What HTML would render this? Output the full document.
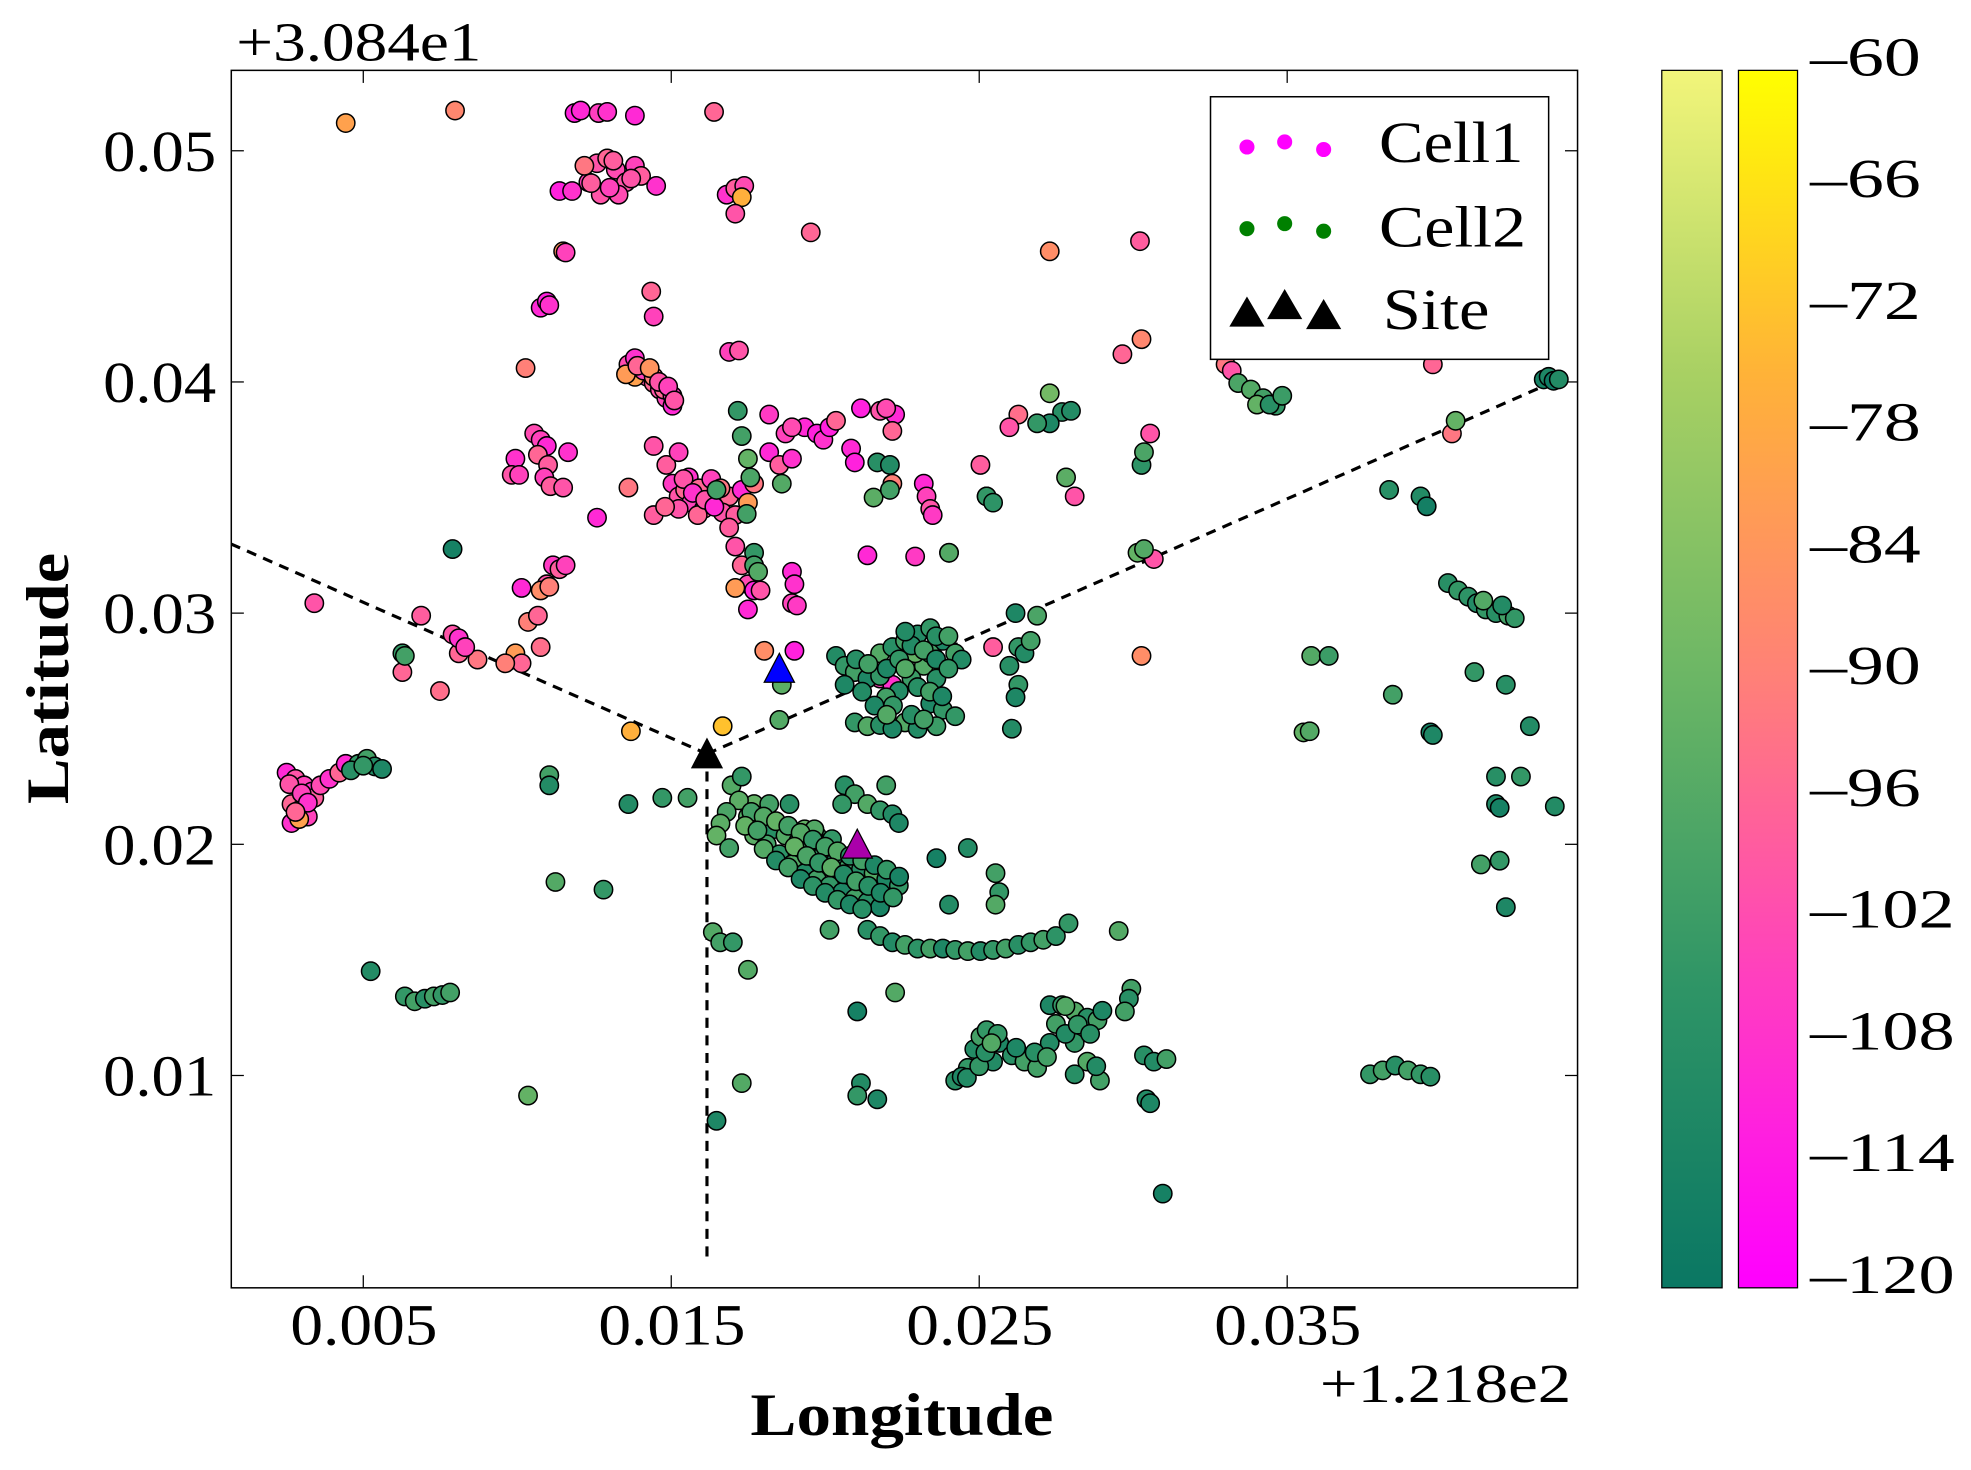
<!DOCTYPE html>
<html><head><meta charset="utf-8">
<style>
html,body{margin:0;padding:0;background:#fff;}
svg{display:block;}
text{font-family:"Liberation Serif","DejaVu Serif",serif;fill:#000;}
</style></head>
<body>
<svg id="chart" width="1971" height="1470" viewBox="0 0 1568 1170" preserveAspectRatio="none" xmlns="http://www.w3.org/2000/svg">
<defs>
<linearGradient id="g2" x1="0" y1="1" x2="0" y2="0">
<stop offset="0" stop-color="#0a7763"/><stop offset="0.25" stop-color="#2f9566"/><stop offset="0.5" stop-color="#6bb665"/><stop offset="0.75" stop-color="#a8d063"/><stop offset="1" stop-color="#f2f57a"/>
</linearGradient>
<linearGradient id="g1" x1="0" y1="1" x2="0" y2="0">
<stop offset="0" stop-color="#ff00ff"/><stop offset="0.25" stop-color="#ff3ec0"/><stop offset="0.5" stop-color="#ff8078"/><stop offset="0.75" stop-color="#ffb238"/><stop offset="1" stop-color="#ffff00"/>
</linearGradient>
</defs>
<rect x="184" y="56" width="1071" height="969" fill="#fff" stroke="#000" stroke-width="1.2"/>
<g id="axes"></g>
<g id="lines"></g>
<g id="marks"></g>
<g id="cbar"></g>
<text x="188" y="48" font-size="44" textLength="195" lengthAdjust="spacingAndGlyphs">+3.084e1</text>
<text x="1050" y="1116" font-size="44" textLength="200" lengthAdjust="spacingAndGlyphs">+1.218e2</text>
<text x="597" y="1142" font-size="48" font-weight="bold" textLength="241" lengthAdjust="spacingAndGlyphs">Longitude</text>
<text x="0" y="0" font-size="48" font-weight="bold" textLength="200" lengthAdjust="spacingAndGlyphs" transform="translate(54,640) rotate(-90)">Latitude</text>
<g>
<rect x="963" y="77" width="269" height="209" fill="#fff" stroke="#000" stroke-width="1.2"/>
<g>
<circle cx="992" cy="117" r="6" fill="#ff00ff"/><circle cx="1022" cy="113" r="6" fill="#ff00ff"/><circle cx="1053" cy="119" r="6" fill="#ff00ff"/>
<text x="1097" y="129" font-size="46" textLength="115" lengthAdjust="spacingAndGlyphs">Cell1</text></g>
<g>
<circle cx="992" cy="182" r="6" fill="#008000"/><circle cx="1022" cy="178" r="6" fill="#008000"/><circle cx="1053" cy="184" r="6" fill="#008000"/>
<text x="1097" y="196" font-size="46" textLength="117" lengthAdjust="spacingAndGlyphs">Cell2</text></g>
<g>
<polygon points="978,260 992,236 1006,260" fill="#000"/><polygon points="1008,254 1022,230 1036,254" fill="#000"/><polygon points="1039,262 1053,238 1067,262" fill="#000"/>
<text x="1100" y="262" font-size="46" textLength="85" lengthAdjust="spacingAndGlyphs">Site</text></g>
</g>
</svg>
<script>
const xTicks = [0.005, 0.015, 0.025, 0.035];
const xTickLabels = ["0.005", "0.015", "0.025", "0.035"];
const yTicks = [0.01, 0.02, 0.03, 0.04, 0.05];
const yTickLabels = ["0.01", "0.02", "0.03", "0.04", "0.05"];
const cbarTicks = [-60, -66, -72, -78, -84, -90, -96, -102, -108, -114, -120];
// points: [lon offset x1000, lat offset x1000, RSSI]
const cell1 = [[4.43,51.20,-80],[7.98,51.74,-88],[11.86,51.63,-112],[12.06,51.74,-110],[12.64,51.63,-105],[12.92,51.68,-108],[13.82,51.52,-110],[16.39,51.68,-96],
[11.37,48.26,-112],[11.78,48.26,-108],[12.31,48.64,-104],[12.59,49.46,-100],[12.92,49.67,-96],[13.20,49.18,-102],[13.53,48.64,-100],[13.82,49.35,-104],[14.02,48.91,-98],[14.51,48.48,-108],[12.71,48.10,-100],[13.29,48.10,-102],[12.18,49.35,-92],[13.12,49.57,-98],
[12.4,48.6,-98],[13.0,48.4,-104],[13.7,48.8,-100],
[16.80,48.10,-108],[17.08,48.37,-98],[17.37,48.48,-102],[17.29,47.99,-76],[17.08,47.28,-100],[19.53,46.47,-96],[11.49,45.65,-84],[11.57,45.60,-104],
[10.76,43.21,-110],[10.96,43.48,-112],[11.04,43.32,-108],[10.27,40.60,-90],[14.35,43.91,-96],[14.43,42.83,-104],[16.88,41.30,-104],[17.20,41.36,-100],
[13.61,40.76,-102],[13.82,41.03,-108],[14.02,40.49,-92],[14.22,40.22,-100],[14.43,39.95,-96],[14.63,39.67,-100],[14.84,39.30,-104],[15.04,38.97,-110],[13.82,40.22,-80],[13.53,40.33,-82],[14.10,40.49,-104],[14.43,40.22,-90],[14.76,39.67,-96],[15.04,39.40,-106],
[13.9,40.7,-96],[14.3,40.6,-84],[14.6,40.0,-100],[14.9,39.8,-104],[15.1,39.2,-100],
[9.94,36.68,-108],[9.82,35.98,-100],[10.06,35.98,-104],[10.55,37.77,-102],[10.76,37.50,-104],[10.96,37.23,-110],[10.67,36.85,-96],[11.00,36.41,-98],[10.88,35.87,-104],[11.65,36.96,-108],[11.08,35.49,-98],[11.49,35.43,-100],[12.59,34.13,-110],
[14.84,36.41,-98],[15.24,36.96,-104],[14.43,37.23,-100],[13.61,35.43,-92],
[15.04,35.60,-106],[15.24,35.05,-100],[15.45,35.33,-96],[15.65,34.78,-104],[16.06,34.51,-98],[16.47,34.78,-102],[16.88,35.05,-96],[17.29,35.33,-110],[17.69,35.60,-92],[15.57,35.87,-108],[16.27,35.22,-84],[16.67,34.35,-100],[17.08,34.24,-98],[17.49,34.78,-82],[15.86,34.24,-96],[14.43,34.24,-98],[15.24,34.51,-100],
[15.4,35.8,-100],[15.9,35.4,-96],[16.3,35.8,-104],[16.6,35.4,-92],[15.7,35.2,-108],[16.1,34.9,-100],[14.8,34.6,-96],[16.4,34.6,-110],
[16.88,33.70,-98],[17.08,32.88,-100],[17.29,32.07,-96],[17.49,31.25,-102],[17.69,30.98,-112],[17.08,31.09,-82],[17.49,30.16,-110],[17.90,30.98,-100],
[18.92,31.79,-110],[19.00,31.25,-108],[18.92,30.43,-104],[19.08,30.33,-106],[18.02,28.37,-86],[19.00,28.37,-112],
[18.18,38.59,-106],[18.18,36.96,-110],[18.71,37.77,-104],[19.33,38.04,-110],[19.73,37.77,-112],[19.94,37.50,-108],[18.92,38.04,-102],[18.51,36.41,-98],[18.92,36.68,-108],[20.14,38.04,-112],[20.35,38.32,-96],
[20.84,37.12,-110],[20.96,36.52,-112],[21.16,38.86,-112],[21.78,38.75,-100],[22.27,38.59,-110],[22.18,37.88,-96],[21.98,38.86,-102],[22.18,35.60,-90],
[23.20,35.60,-110],[23.29,35.05,-104],[23.41,34.51,-100],[23.49,34.24,-106],[21.37,32.50,-110],[22.92,32.45,-106],[24.02,32.61,-92],
[25.04,36.41,-98],[25.24,35.05,-96],[26.27,38.59,-94],[25.98,38.04,-100],[28.10,35.05,-100],
[27.29,45.65,-86],[30.22,46.09,-98],[30.27,41.85,-88],[29.65,41.20,-96],[30.55,37.77,-100],[30.67,32.34,-100],[30.27,28.15,-86],[25.45,28.53,-98],
[11.16,32.07,-106],[11.37,31.90,-98],[11.57,32.07,-104],[10.96,31.25,-100],[10.76,30.98,-86],[11.04,31.14,-90],[10.14,31.09,-110],[10.35,29.62,-90],[10.67,29.89,-96],[10.76,28.53,-94],[9.94,28.26,-82],[10.14,27.83,-96],[9.61,27.83,-90],
[3.41,30.43,-100],[6.88,29.89,-98],[7.90,29.08,-100],[8.10,28.26,-96],[8.71,27.99,-92],[7.49,26.63,-94],[6.27,27.45,-96],[8.10,28.91,-108],[8.31,28.53,-104],
[13.69,24.89,-76],[16.67,25.11,-72],
[2.51,23.10,-110],[2.80,22.83,-100],[3.08,22.55,-104],[3.33,22.28,-108],[2.67,21.74,-96],[2.92,21.47,-100],[3.20,21.20,-104],[3.41,22.01,-98],[3.61,22.55,-102],[3.90,22.83,-108],[4.22,23.10,-96],[4.43,23.48,-110],[2.67,20.92,-108],[2.92,21.09,-80],
[2.6,22.6,-100],[3.0,22.2,-104],[3.2,21.8,-108],[2.8,21.4,-96],
[33.00,40.76,-92],[33.20,40.49,-100],[39.73,40.76,-96],[40.35,37.77,-92],
[21.78,27.17,-104],[20.96,27.72,-100],[22.18,26.90,-108]];
const cell2 = [[43.33,40.11,-115],[43.49,40.22,-112],[43.65,40.05,-118],[43.82,40.11,-110],
[33.41,39.95,-98],[33.82,39.67,-96],[34.22,39.30,-100],[34.63,38.97,-104],[34.02,39.02,-92],[34.43,39.02,-108],[34.84,39.40,-102],
[27.29,39.51,-88],[27.69,38.70,-108],[27.98,38.75,-110],[27.29,38.21,-112],[30.27,36.41,-106],[30.35,36.96,-98],
[17.16,38.75,-104],[17.29,37.66,-100],[17.49,36.68,-92],[17.57,35.87,-98],[17.45,34.29,-100],[17.69,32.61,-104],[17.69,32.07,-100],[17.82,31.79,-96],
[18.59,35.60,-96],[16.47,35.33,-100],[21.57,35.00,-94],[22.10,35.33,-100],[21.69,36.52,-108],[22.10,36.41,-110],
[25.24,35.05,-104],[25.45,34.78,-106],[24.02,32.61,-96],[27.82,35.87,-94],[30.14,32.61,-92],[30.35,32.77,-96],
[7.90,32.77,-115],[6.27,28.26,-104],[6.35,28.15,-100],
[38.31,35.33,-108],[39.33,35.05,-110],[39.53,34.62,-116],
[40.22,31.30,-108],[40.55,30.98,-104],[40.88,30.71,-106],[41.16,30.43,-110],[41.45,30.16,-104],[41.78,30.00,-108],[42.18,29.89,-100],[42.39,29.78,-104],[41.37,30.54,-96],[41.98,30.33,-110],
[35.78,28.15,-96],[36.35,28.15,-102],[35.53,24.84,-92],[35.73,24.89,-96],[38.43,26.47,-100],[39.65,24.84,-115],[39.73,24.73,-112],[41.08,27.45,-104],[42.10,26.90,-108],[42.88,25.11,-110],[41.78,22.93,-108],[42.59,22.93,-104],[41.78,21.74,-112],[41.90,21.58,-115],[43.69,21.64,-110],[41.29,19.13,-100],[41.90,19.29,-104],[42.10,17.28,-112],[40.47,38.32,-92],
[20.35,28.15,-110],[20.63,27.72,-104],[20.96,27.45,-100],[21.37,27.17,-112],[21.78,28.26,-96],[22.18,28.53,-108],[22.59,28.80,-100],[23.00,29.08,-110],[23.41,29.35,-104],[23.82,28.80,-112],[24.22,28.26,-100],[23.20,27.72,-96],[23.61,27.17,-108],[22.80,27.17,-102],[22.39,26.63,-110],[21.98,26.36,-100],[23.41,26.09,-112],[23.82,25.82,-104],[22.59,25.27,-96],[23.00,25.00,-110],[23.61,25.11,-102],[20.96,25.27,-104],[21.37,25.11,-96],[21.78,25.16,-108],[22.18,25.00,-112],[24.22,25.54,-104],[24.43,27.99,-110],[22.92,28.26,-92],[23.41,28.26,-100],[21.78,27.28,-104],[20.63,26.90,-112],
[21.0,28.0,-108],[21.4,27.8,-100],[22.0,27.6,-112],[22.4,28.0,-104],[22.8,28.6,-110],[23.2,28.4,-100],[23.6,28.0,-112],[24.0,27.6,-104],[22.6,27.6,-96],[23.0,26.8,-108],[23.4,26.6,-100],[23.8,26.4,-112],[22.2,26.0,-104],[22.8,25.6,-108],[23.2,25.4,-100],[21.2,26.6,-110],[21.6,26.0,-112],[22.0,25.6,-96],[23.6,29.0,-108],[22.6,29.2,-110],[24.0,29.0,-100],
[26.18,30.00,-112],[26.88,29.89,-98],[26.27,28.53,-104],[26.47,28.26,-110],[26.67,28.80,-100],[25.98,27.72,-108],[26.27,26.90,-104],[26.18,26.36,-112],[26.06,25.00,-110],
[18.59,26.90,-94],[26.88,38.21,-104],
[16.96,22.55,-96],[17.29,22.93,-104],[17.69,21.74,-92],[17.90,20.92,-100],[18.31,20.65,-108],[18.71,20.38,-96],[19.12,20.11,-110],[19.53,19.84,-100],[19.94,19.57,-104],[20.35,19.29,-112],[20.76,19.02,-100],[21.16,18.91,-108],[21.57,18.75,-96],[21.98,18.48,-112],[22.39,18.21,-104],[17.69,20.38,-94],[18.10,20.00,-100],[18.51,19.57,-106],[18.92,19.13,-96],[19.33,18.75,-110],[19.73,18.48,-100],[20.14,18.21,-104],[20.55,17.93,-112],[20.96,17.66,-100],[21.37,17.50,-108],[21.78,17.28,-114],[19.33,20.65,-92],[19.73,20.38,-100],[20.14,20.11,-108],[17.49,21.20,-96],[18.18,21.74,-100],[18.84,21.74,-108],[19.65,20.65,-96],[20.22,20.22,-104],
[17.2,21.9,-94],[17.6,21.4,-100],[18.0,21.2,-96],[18.4,21.0,-92],[18.8,20.8,-100],[19.2,20.5,-96],[19.6,20.2,-104],[20.0,19.9,-100],[20.4,19.7,-96],[20.8,19.5,-108],[21.2,19.3,-100],[21.6,19.1,-112],[22.0,18.9,-104],[22.4,18.6,-114],[18.0,19.8,-96],[18.4,19.3,-110],[18.8,19.0,-100],[19.2,18.5,-112],[19.6,18.2,-106],[20.0,17.9,-110],[20.4,17.6,-104],[20.8,17.4,-112],[21.2,17.2,-108],[17.4,20.8,-92],[17.8,20.6,-100],[19.0,19.9,-92],[19.4,19.5,-98],[19.8,19.2,-104],[20.2,19.0,-94],[20.6,18.7,-110],[21.0,18.4,-100],[21.4,18.2,-108],[21.8,17.9,-112],[22.2,17.7,-104],[16.8,21.4,-98],[16.6,20.9,-94],
[20.63,22.55,-108],[20.96,22.17,-100],[21.37,21.74,-96],[21.78,21.47,-104],[22.18,21.30,-110],[21.98,22.55,-100],[22.39,20.92,-112],[20.55,21.74,-104],[16.47,20.38,-92],[16.88,19.84,-100],
[21.37,16.30,-108],[21.78,16.03,-104],[22.18,15.76,-110],[22.59,15.65,-100],[23.00,15.49,-106],[23.41,15.49,-100],[23.82,15.49,-112],[24.22,15.43,-104],[24.63,15.38,-100],[25.04,15.38,-110],[25.45,15.43,-104],[25.86,15.49,-100],[26.27,15.65,-108],[26.67,15.76,-104],[27.08,15.87,-100],[27.49,16.03,-106],[27.90,16.58,-104],
[23.61,19.40,-115],[24.02,17.39,-110],[24.63,19.84,-110],[25.53,18.75,-100],[25.65,17.93,-104],[25.53,17.39,-96],
[29.53,16.25,-96],[29.94,13.75,-100],[29.86,13.32,-108],[29.73,12.77,-100],
[24.22,9.78,-108],[24.63,10.33,-104],[24.84,11.14,-110],[25.04,11.68,-100],[25.24,11.96,-104],[25.65,11.41,-112],[26.06,10.87,-108],[26.47,10.60,-100],[26.88,10.87,-104],[27.29,11.41,-110],[27.49,12.23,-100],[27.29,13.04,-112],[27.69,13.04,-104],[28.10,12.77,-96],[28.51,12.50,-108],[28.84,12.39,-100],[28.10,11.41,-104],[28.51,10.60,-96],[28.92,9.78,-100],[28.10,10.05,-108],[26.88,10.33,-100],[25.45,10.60,-110],[24.43,9.95,-112],
[24.6,9.9,-110],[25.0,10.4,-104],[25.2,11.0,-108],[25.6,11.8,-104],[26.2,11.2,-112],[26.8,11.0,-108],[27.2,10.8,-100],[27.8,11.8,-110],[28.2,12.2,-104],[28.6,11.8,-108],[28.8,10.4,-110],[29.0,12.8,-112],[27.8,13.0,-96],[25.4,11.4,-96],
[30.35,10.87,-108],[30.67,10.60,-110],[31.08,10.71,-100],[30.43,8.97,-110],[30.55,8.80,-112],
[37.69,10.05,-104],[38.10,10.22,-100],[38.51,10.43,-108],[38.92,10.22,-100],[39.33,10.05,-104],[39.65,9.95,-108],
[30.96,4.89,-115],[21.04,12.77,-115],[21.16,9.67,-110],[21.69,8.97,-112],[21.04,9.13,-104],[22.27,13.59,-96],
[17.29,9.67,-96],[16.47,8.04,-112],[10.35,9.13,-92],[16.35,16.20,-96],[16.59,15.76,-100],[17.00,15.76,-104],[17.49,14.57,-96],[20.14,16.30,-100],
[5.24,14.51,-110],[6.35,13.42,-104],[6.67,13.21,-100],[7.00,13.32,-108],[7.29,13.42,-100],[7.57,13.48,-104],[7.82,13.59,-100],
[11.24,18.37,-96],[12.80,18.04,-104],[13.61,21.74,-110],[14.71,22.01,-104],[15.53,22.01,-100],[11.04,22.99,-100],[11.04,22.55,-110],
[4.84,23.48,-104],[5.12,23.70,-100],[5.37,23.37,-110],[5.61,23.26,-112],[4.6,23.2,-108],[5.0,23.4,-104],[18.51,25.38,-96]];
const siteLon = [16.16, 18.51, 21.04];
const siteLat = [23.91, 27.61, 20.00];
const siteColors = ["#000000", "#0000ff", "#aa00aa"];
const sectorLon = [0.71, 43.82, 16.16];
const sectorLat = [32.99, 40.11, 2.17];

const NS = "http://www.w3.org/2000/svg";
function sx(lonDeg){ return 289 + (lonDeg - 0.005) * 24500; }
function sy(latDeg){ return 120 - (latDeg - 0.05) * 18400; }
function cbY(v){ return 56 + (-60 - v) / 60 * 969; }
function lerp(stops, t){
  t = Math.max(0, Math.min(1, t));
  for (let i = 1; i < stops.length; i++){
    if (t <= stops[i][0]){
      const a = stops[i-1], b = stops[i], f = (t - a[0]) / (b[0] - a[0]);
      const c = [0,1,2].map(k => Math.round(a[1][k] + (b[1][k] - a[1][k]) * f));
      return "rgb(" + c.join(",") + ")";
    }
  }
  return "rgb(" + stops[stops.length-1][1].join(",") + ")";
}
const map2 = [[0,[10,119,99]],[0.25,[47,149,102]],[0.5,[107,182,101]],[0.75,[168,208,99]],[1,[242,245,122]]];
const map1 = [[0,[255,0,255]],[0.25,[255,62,192]],[0.5,[255,128,120]],[0.75,[255,178,56]],[1,[255,255,0]]];
function mk(tag, attrs, parent){
  const e = document.createElementNS(NS, tag);
  for (const k in attrs) e.setAttribute(k, attrs[k]);
  parent.appendChild(e); return e;
}
const axes = document.getElementById("axes");
xTicks.forEach((t, i) => {
  const x = sx(t);
  const l1 = mk("line", {x1:x, x2:x, y1:1025, y2:1015, stroke:"#000", "stroke-width":1}, axes);
  
  
  const l2 = mk("line", {x1:x, x2:x, y1:56, y2:66, stroke:"#000", "stroke-width":1}, axes);
  
  
  const tx = mk("text", {x:x-58, y:1070, "font-size":46, textLength:117, lengthAdjust:"spacingAndGlyphs"}, axes);
  tx.textContent = xTickLabels[i];
  
  
});
yTicks.forEach((t, i) => {
  const y = sy(t);
  const l1 = mk("line", {x1:184, x2:194, y1:y, y2:y, stroke:"#000", "stroke-width":1}, axes);
  
  
  const l2 = mk("line", {x1:1245, x2:1255, y1:y, y2:y, stroke:"#000", "stroke-width":1}, axes);
  
  
  const tx = mk("text", {x:82, y:y+16, "font-size":46, textLength:90, lengthAdjust:"spacingAndGlyphs"}, axes);
  tx.textContent = yTickLabels[i];
  
  
});
const lines = document.getElementById("lines");
sectorLon.forEach((lo, i) => {
  const ln = mk("line", {x1:sx(siteLon[0]/1000), y1:sy(siteLat[0]/1000), x2:sx(lo/1000), y2:sy(sectorLat[i]/1000), stroke:"#000", "stroke-width":2.5, "stroke-dasharray":"8,6"}, lines);
  
  
});
const marks = document.getElementById("marks");
function drawSeries(arr, cmap, name){
  arr.forEach(p => {
    const c = mk("circle", {cx:sx(p[0]/1000), cy:sy(p[1]/1000), r:7.3, fill:lerp(cmap, (p[2]+120)/60), stroke:"#000", "stroke-width":1.2}, marks);
    
    
  });
}
drawSeries(cell1, map1, 'cell1-point');
drawSeries(cell2, map2, 'cell2-point');
siteLon.forEach((lo, i) => {
  const x = sx(lo/1000), y = sy(siteLat[i]/1000);
  const tr = mk("polygon", {points:(x-12)+","+(y+11)+" "+x+","+(y-12)+" "+(x+12)+","+(y+11), fill:siteColors[i], stroke:"#000", "stroke-width":1}, marks);
  
  
});
const cb = document.getElementById("cbar");
const b1 = mk("rect", {x:1322, y:56, width:48, height:969, fill:"url(#g2)", stroke:"#000", "stroke-width":1}, cb);


const b2 = mk("rect", {x:1383, y:56, width:47, height:969, fill:"url(#g1)", stroke:"#000", "stroke-width":1}, cb);


cbarTicks.forEach(v => {
  const y = cbY(v);
  const s = "\u2013" + Math.abs(v);
  const t = mk("text", {x:1440, y:y+4, "font-size":44, textLength:(s.length === 3 ? 88 : 115), lengthAdjust:"spacingAndGlyphs"}, cb);
  t.textContent = s;
  
  
});
</script>
</body></html>
